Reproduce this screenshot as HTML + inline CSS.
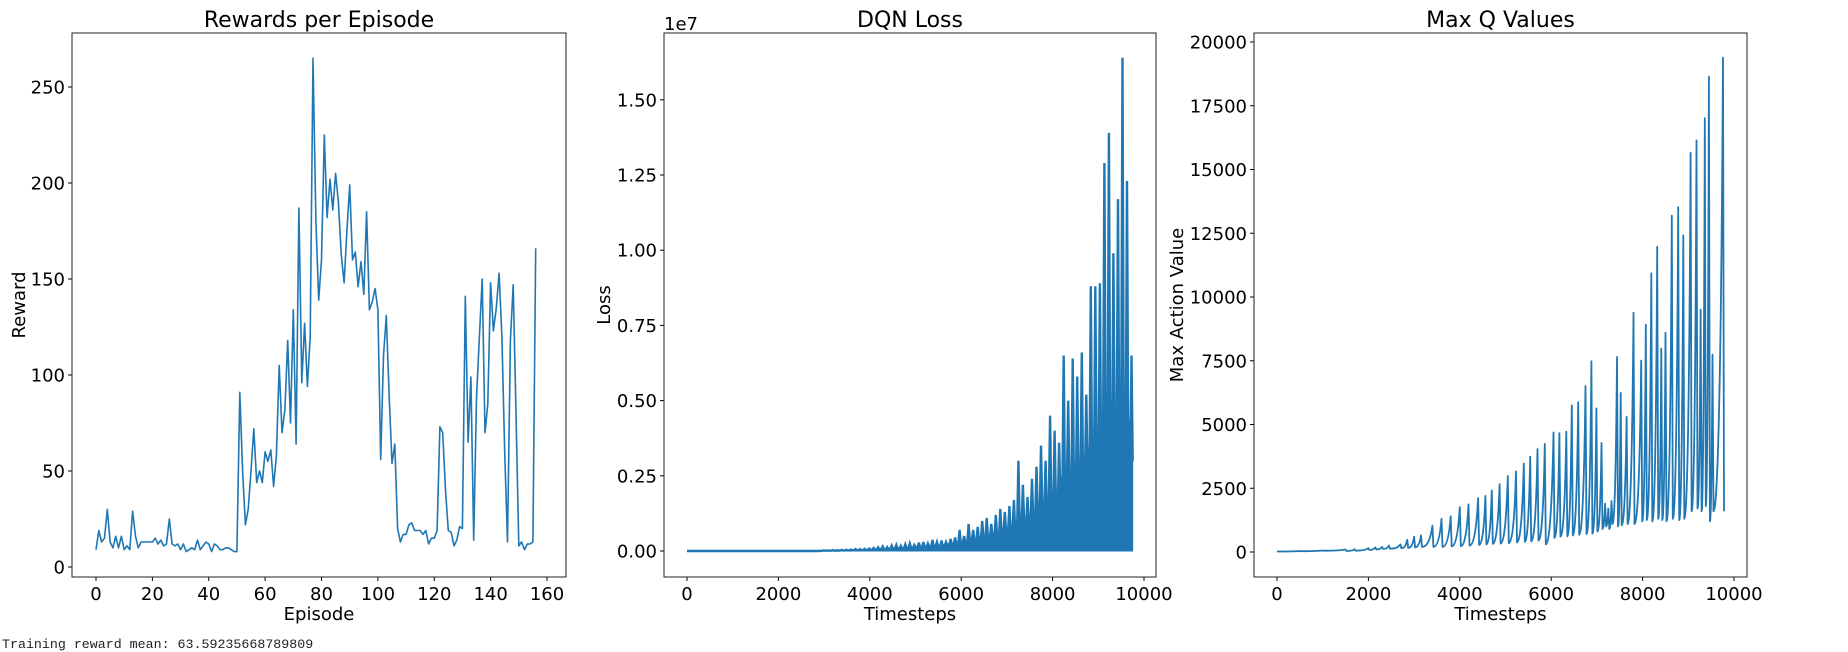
<!DOCTYPE html>
<html><head><meta charset="utf-8">
<style>
body{margin:0;background:#fff;width:1848px;height:652px;overflow:hidden;}
svg{display:block;font-family:"DejaVu Sans","Liberation Sans",sans-serif;}
.mono{font-family:"Liberation Mono",monospace;}
</style></head>
<body>
<svg id="fig" width="1848" height="652" viewBox="0 0 1848 652" xmlns="http://www.w3.org/2000/svg"></svg>
<script>
// ---- Rewards per Episode ----
const rewardValues=[9,19,13,15,30,13,10,16,10,16,9,11,9,29,16,10,13,13,13,13,13,15,12,14,11,12,25,12,11,12,9,12,8,9,10,9,14,9,11,13,12,8,12,11,9,9,10,10,9,8,8,91,50,22,30,50,72,44,50,44,60,55,61,42,58,105,70,82,118,75,134,64,187,96,127,94,120,265,180,139,160,225,182,202,186,205,190,163,148,175,199,160,164,146,159,142,185,134,138,145,134,56,110,131,90,54,64,20,13,17,17,22,23,19,19,19,17,19,12,15,15,19,73,70,40,19,18,11,14,21,20,141,65,99,14,88,120,150,70,85,148,123,135,153,120,60,13,118,147,80,11,13,9,12,12,13,166];
const rewardXTicks=[0,20,40,60,80,100,120,140,160];
const rewardYTicks=[0,50,100,150,200,250];
// ---- DQN Loss (peak per ~100-timestep bin, units of 1e7) ----
const lossSteps=[];for(let i=0;i<99;i++)lossSteps.push(i*99);
const lossPeaks=[0,0,0,0,0,0,0,0,0,0,0,0,0,0,0,0,0,0,0,0,0,0,0,0,0,0,0,0,0,0.001,
0.002,0.002,0.003,0.003,0.004,0.004,0.005,0.006,0.006,0.007,
0.008,0.01,0.012,0.015,0.013,0.018,0.02,0.017,0.022,0.025,
0.02,0.028,0.03,0.025,0.037,0.03,0.035,0.03,0.04,0.045,
0.07,0.05,0.09,0.07,0.08,0.1,0.11,0.09,0.12,0.14,
0.13,0.15,0.17,0.3,0.22,0.18,0.24,0.28,0.35,0.30,
0.45,0.4,0.36,0.65,0.5,0.64,0.58,0.66,0.52,0.88,
0.88,0.89,1.29,1.39,0.99,1.17,1.64,1.23,0.65];
const lossTroughs=[0,0,0,0,0,0,0,0,0,0,0,0,0,0,0,0,0,0,0,0,0,0,0,0,0,0,0,0,0,0,
0.001,0.001,0.001,0.001,0.002,0.002,0.002,0.003,0.003,0.003,
0.004,0.005,0.006,0.007,0.007,0.008,0.009,0.009,0.01,0.012,
0.012,0.013,0.015,0.015,0.017,0.017,0.018,0.02,0.022,0.025,
0.03,0.03,0.035,0.04,0.04,0.045,0.05,0.05,0.06,0.06,
0.07,0.07,0.08,0.1,0.1,0.1,0.12,0.13,0.15,0.15,
0.18,0.18,0.18,0.25,0.25,0.25,0.25,0.28,0.28,0.35,
0.35,0.35,0.45,0.5,0.4,0.45,0.5,0.45,0.3];
const lossXTicks=[0,2000,4000,6000,8000,10000];
const lossYTicks=[0,0.25,0.5,0.75,1.0,1.25,1.5];
const lossYLabels=["0.00","0.25","0.50","0.75","1.00","1.25","1.50"];
// ---- Max Q Values ----
const qSteps=[0,500,1000,1500,1700,2000,2150,2300,2450,2700,2850,3000,3150,3400,3600,3800,4000,4190,4400,4560,4700,4870,5050,5230,5400,5540,5700,5860,6050,6180,6330,6450,6590,6750,6880,6990,7100,7180,7250,7320,7440,7520,7650,7800,7970,8070,8190,8320,8410,8500,8640,8780,8890,9050,9180,9270,9360,9450,9530,9760];
const qPeaks=[20,40,60,100,110,150,180,200,250,300,480,600,650,1030,1300,1400,1760,1870,2110,2200,2410,2660,2980,3160,3470,3740,4040,4240,4690,4660,4720,5750,5870,6510,7480,5630,4280,1900,1700,2000,7650,6240,5300,9380,7510,8920,10930,11970,7980,8600,13190,13520,12420,15650,16140,9500,17010,18640,7740,19390];
const qTroughs=[20,30,50,40,50,80,100,120,130,150,160,180,200,200,200,220,230,250,280,300,320,330,350,380,400,420,450,300,550,600,620,650,680,700,720,800,900,1000,900,1100,1000,1050,1100,1100,1200,1250,1200,1300,1250,1200,1300,1250,1300,1600,1700,1600,1800,1200,1600,1600];
const qXTicks=[0,2000,4000,6000,8000,10000];
const qYTicks=[0,2500,5000,7500,10000,12500,15000,17500,20000];

const NS="http://www.w3.org/2000/svg";
const svg=document.getElementById('fig');
const BLUE="#1f77b4";
function mk(tag,attrs,parent,text){const e=document.createElementNS(NS,tag);for(const k in attrs)e.setAttribute(k,attrs[k]);if(text!==undefined)e.textContent=text;(parent||svg).appendChild(e);return e;}

function panel(name,L,R,T,B,sx,sy,xt,xtl,yt,ytl,title,xlab,ylab,ylabX){
  const g=mk('g',{});
  
  
  const t=mk('text',{x:(L+R)/2,y:27,'text-anchor':'middle','font-size':22,fill:'#000'},g,title);
  
  
  xt.forEach((v,i)=>{const x=sx(v);mk('line',{x1:x,x2:x,y1:B,y2:B+4,stroke:'#000','stroke-width':1},g);
    const l=mk('text',{x:x,y:600,'text-anchor':'middle','font-size':18,fill:'#000'},g,xtl[i]);
    
    });
  yt.forEach((v,i)=>{const y=sy(v);mk('line',{x1:L-4,x2:L,y1:y,y2:y,stroke:'#000','stroke-width':1},g);
    const l=mk('text',{x:L-7,y:y+6.5,'text-anchor':'end','font-size':18,fill:'#000'},g,ytl[i]);
    
    });
  const xl=mk('text',{x:(L+R)/2,y:620,'text-anchor':'middle','font-size':18,fill:'#000'},g,xlab);
  
  
  const cy=(T+B)/2;
  const yl=mk('text',{x:ylabX,y:cy,'text-anchor':'middle','font-size':18,fill:'#000',transform:`rotate(-90 ${ylabX} ${cy})`},g,ylab);
  
  
  return g;
}
function frame(g,L,R,T,B){const r=mk('rect',{x:L,y:T,width:R-L,height:B-T,fill:'none',stroke:'#222','stroke-width':1},g);
  
  }

// Panel 1
const p1={L:72,R:566,T:33,B:577};
const sx1=v=>96+v*(547-96)/160, sy1=v=>567-v*(480/250);
const g1=panel('rewards-chart',p1.L,p1.R,p1.T,p1.B,sx1,sy1,rewardXTicks,rewardXTicks.map(String),rewardYTicks,rewardYTicks.map(String),'Rewards per Episode','Episode','Reward',25);
const rl=mk('polyline',{points:rewardValues.map((v,i)=>sx1(i).toFixed(1)+','+sy1(v).toFixed(1)).join(' '),fill:'none',stroke:BLUE,'stroke-width':1.6,'stroke-linejoin':'round'},g1);


frame(g1,p1.L,p1.R,p1.T,p1.B);

// Panel 2
const p2={L:664,R:1156,T:33,B:577};
const sx2=v=>687+v*0.0457, sy2=v=>551-v*300.8;
const g2=panel('loss-chart',p2.L,p2.R,p2.T,p2.B,sx2,sy2,lossXTicks,lossXTicks.map(String),lossYTicks,lossYLabels,'DQN Loss','Timesteps','Loss',610);
const ex=mk('text',{x:664,y:30,'font-size':18,fill:'#000'},g2,'1e7');


let fillPts=[sx2(0)+','+sy2(0)];
lossSteps.forEach((t,i)=>{fillPts.push(sx2(t).toFixed(1)+','+sy2(lossTroughs[i]).toFixed(1));fillPts.push(sx2(t+50).toFixed(1)+','+sy2(lossTroughs[i]).toFixed(1));});
fillPts.push(sx2(lossSteps[lossSteps.length-1]+50)+','+sy2(0));
const lf=mk('polygon',{points:fillPts.join(' '),fill:BLUE,stroke:BLUE,'stroke-width':1},g2);


let d='M'+sx2(0)+','+sy2(0);
lossSteps.forEach((t,i)=>{d+=` L${sx2(t).toFixed(1)},${sy2(lossTroughs[i]).toFixed(1)} L${sx2(t+25).toFixed(1)},${sy2(lossPeaks[i]).toFixed(1)} L${sx2(t+50).toFixed(1)},${sy2(lossTroughs[i]).toFixed(1)}`;});
const ll=mk('path',{d:d,fill:'none',stroke:BLUE,'stroke-width':2.4,'stroke-linejoin':'miter'},g2);


frame(g2,p2.L,p2.R,p2.T,p2.B);

// Panel 3
const p3={L:1254,R:1747,T:33,B:577};
const sx3=v=>1277+v*0.0457, sy3=v=>552-v*0.0255;
const g3=panel('max-q-chart',p3.L,p3.R,p3.T,p3.B,sx3,sy3,qXTicks,qXTicks.map(String),qYTicks,qYTicks.map(String),'Max Q Values','Timesteps','Max Action Value',1183);
let qd='M'+sx3(qSteps[0]).toFixed(1)+','+sy3(qTroughs[0]).toFixed(1);
for(let i=1;i<qSteps.length;i++){
  const x0=sx3(qSteps[i-1]),y0=sy3(qTroughs[i-1]),x1=sx3(qSteps[i]),y1=sy3(qPeaks[i]);
  qd+=` Q${(x0+(x1-x0)*0.75).toFixed(1)},${y0.toFixed(1)} ${x1.toFixed(1)},${y1.toFixed(1)} L${(x1+1).toFixed(1)},${sy3(qTroughs[i]).toFixed(1)}`;
}
const ql=mk('path',{d:qd,fill:'none',stroke:BLUE,'stroke-width':1.8,'stroke-linejoin':'round'},g3);


frame(g3,p3.L,p3.R,p3.T,p3.B);

const tr=mk('text',{x:2,y:648,'font-size':13.3,fill:'#222',class:'mono'},svg,'Training reward mean: 63.59235668789809');


</script>
</body></html>
